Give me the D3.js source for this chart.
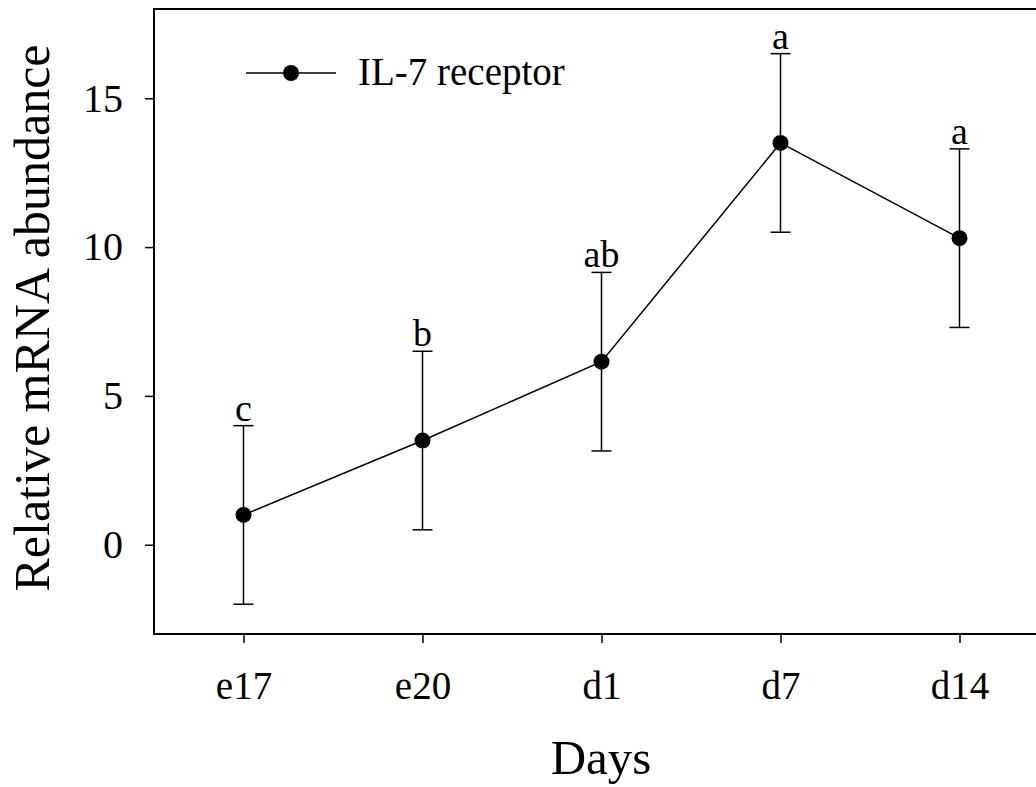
<!DOCTYPE html>
<html>
<head>
<meta charset="utf-8">
<script src="https://cdn.jsdelivr.net/npm/d3@7"></script>
<style>
  html, body { margin: 0; padding: 0; background: #fff; }
  svg { display: block; }
  text { font-family: "Liberation Serif", "Times New Roman", serif; fill: #000; }
</style>
</head>
<body>
<svg id="chart" width="1036" height="787"></svg>
<script>
// IL-7 receptor mRNA abundance over development
const days = ["e17", "e20", "d1", "d7", "d14"];
const means = [1.0, 3.5, 6.15, 13.5, 10.3];
const errors = [3.0, 3.0, 3.0, 3.0, 3.0];
const letters = ["c", "b", "ab", "a", "a"];
const yTicks = [0, 5, 10, 15];
const seriesName = "IL-7 receptor";

const svg = d3.select("#chart");
const plotLeft = 154, plotRight = 1049, plotTop = 9, plotBottom = 634;

const x = d3.scalePoint().domain(days).range([plotLeft, plotRight]).padding(0.5);
const y = d3.scaleLinear().domain([-3, 18]).range([plotBottom, plotTop]);

const fontSize = 38;

// frame
svg.append("rect")
  .attr("x", plotLeft).attr("y", plotTop)
  .attr("width", plotRight - plotLeft).attr("height", plotBottom - plotTop)
  .attr("fill", "none").attr("stroke", "#000").attr("stroke-width", 2);

// y axis
const yAxis = svg.append("g")
  .attr("transform", `translate(${plotLeft},0)`)
  .call(d3.axisLeft(y).tickValues(yTicks).tickSize(9).tickPadding(22).tickFormat(d3.format("d")));
yAxis.select(".domain").remove();
yAxis.selectAll(".tick line").attr("stroke", "#000").attr("stroke-width", 1.5);
yAxis.selectAll(".tick text")
  .style("font-family", '"Liberation Serif", "Times New Roman", serif')
  .style("font-size", "40px").attr("fill", "#000");

// x axis
const xAxis = svg.append("g")
  .attr("transform", `translate(0,${plotBottom})`)
  .call(d3.axisBottom(x).tickSize(9).tickPadding(28));
xAxis.select(".domain").remove();
xAxis.selectAll(".tick line").attr("stroke", "#000").attr("stroke-width", 1.5);
xAxis.selectAll(".tick text")
  .style("font-family", '"Liberation Serif", "Times New Roman", serif')
  .style("font-size", "39px").attr("fill", "#000");

// axis titles
svg.append("text")
  .attr("x", 601).attr("y", 774)
  .attr("text-anchor", "middle")
  .style("font-size", "49px")
  .text("Days");

svg.append("text")
  .attr("transform", "translate(49,318) rotate(-90)")
  .attr("text-anchor", "middle")
  .style("font-size", "50px")
  .text("Relative mRNA abundance");

const data = days.map((d, i) => ({ day: d, mean: means[i], err: errors[i], letter: letters[i] }));

// error bars
const capW = 10;
const eb = svg.append("g").attr("stroke", "#000").attr("stroke-width", 1.5);
data.forEach(d => {
  const cx = x(d.day);
  eb.append("line").attr("x1", cx).attr("x2", cx)
    .attr("y1", y(d.mean + d.err)).attr("y2", y(d.mean - d.err));
  eb.append("line").attr("x1", cx - capW).attr("x2", cx + capW)
    .attr("y1", y(d.mean + d.err)).attr("y2", y(d.mean + d.err));
  eb.append("line").attr("x1", cx - capW).attr("x2", cx + capW)
    .attr("y1", y(d.mean - d.err)).attr("y2", y(d.mean - d.err));
});

// connecting line
svg.append("path")
  .datum(data)
  .attr("fill", "none").attr("stroke", "#000").attr("stroke-width", 1.5)
  .attr("d", d3.line().x(d => x(d.day)).y(d => y(d.mean)));

// markers
svg.append("g").selectAll("circle").data(data).join("circle")
  .attr("cx", d => x(d.day)).attr("cy", d => y(d.mean)).attr("r", 8)
  .attr("fill", "#000");

// significance letters
svg.append("g").selectAll("text").data(data).join("text")
  .attr("x", d => x(d.day)).attr("y", d => y(d.mean + d.err) - 5)
  .attr("text-anchor", "middle")
  .style("font-size", fontSize + "px")
  .text(d => d.letter);

// legend
const lg = svg.append("g");
lg.append("line").attr("x1", 246).attr("x2", 336).attr("y1", 73).attr("y2", 73)
  .attr("stroke", "#000").attr("stroke-width", 1.5);
lg.append("circle").attr("cx", 291).attr("cy", 73).attr("r", 8).attr("fill", "#000");
lg.append("text").attr("x", 358).attr("y", 85)
  .style("font-size", "39px")
  .text(seriesName);
</script>
</body>
</html>
